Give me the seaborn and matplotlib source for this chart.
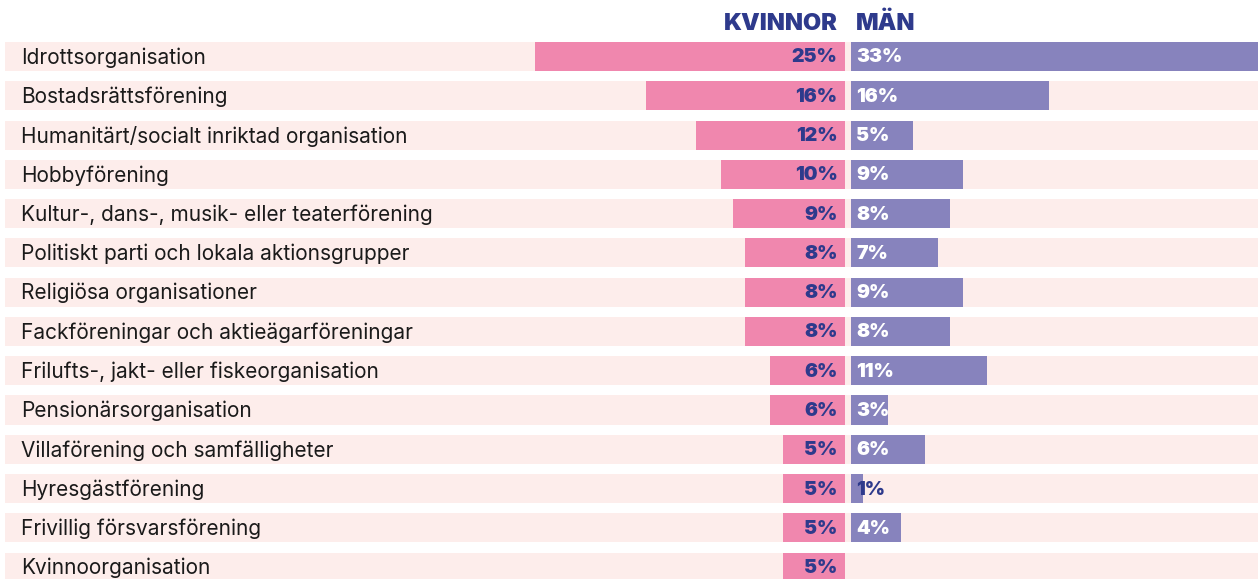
import matplotlib
matplotlib.use("Agg")
import matplotlib.pyplot as plt
import seaborn as sns
import pandas as pd

categories = [
    "Idrottsorganisation",
    "Bostadsrättsförening",
    "Humanitärt/socialt inriktad organisation",
    "Hobbyförening",
    "Kultur-, dans-, musik- eller teaterförening",
    "Politiskt parti och lokala aktionsgrupper",
    "Religiösa organisationer",
    "Fackföreningar och aktieägarföreningar",
    "Frilufts-, jakt- eller fiskeorganisation",
    "Pensionärsorganisation",
    "Villaförening och samfälligheter",
    "Hyresgästförening",
    "Frivillig försvarsförening",
    "Kvinnoorganisation",
]
kvinnor = [25, 16, 12, 10, 9, 8, 8, 8, 6, 6, 5, 5, 5, 5]
man = [33, 16, 5, 9, 8, 7, 9, 8, 11, 3, 6, 1, 4, None]

PINK = "#F087AE"
PURPLE = "#8783BD"
BAND = "#FDEDEB"
NAVY = "#2E3A8C"

sns.set_theme(style="white")
plt.rcParams["font.family"] = ["Inter", "DejaVu Sans"]

df = pd.DataFrame({"kategori": categories, "kvinnor": kvinnor, "man": man})
df["kvinnor_neg"] = -df["kvinnor"]

W, H = 1258, 579
fig = plt.figure(figsize=(W / 100, H / 100), dpi=100)
ax = fig.add_axes([0, 0, 1, 1])

# 12.4 px per percentage point, zero between the two bar groups
PX = 12.4
X0 = 847.75
half_gap = 3.25 / PX

# background bands
n = len(categories)
left_px, right_px = 5, W
ax.barh(range(n), [(right_px - left_px) / PX] * n, left=(left_px - X0) / PX,
        height=0.74, color=BAND, linewidth=0, zorder=0)
n_band = len(ax.patches)

sns.barplot(data=df, y="kategori", x="kvinnor_neg", color=PINK, orient="h",
            width=0.74, saturation=1, linewidth=0, ax=ax, zorder=2)
sns.barplot(data=df.dropna(subset=["man"]), y="kategori", x="man", color=PURPLE,
            orient="h", width=0.74, saturation=1, linewidth=0, ax=ax, zorder=2)

for p in ax.patches[n_band:]:
    if p.get_width() < 0:
        p.set_x(p.get_x() - half_gap)
    else:
        p.set_x(p.get_x() + half_gap)

ax.set_xlim(-X0 / PX, (W - X0) / PX)
pitch = 39.28
yc = 56.5
ax.set_ylim((H - yc) / pitch, -yc / pitch)
ax.axis("off")

dy = 1.0 / pitch
label_x = (21 - X0) / PX
for i, cat in enumerate(categories):
    ax.text(label_x, i + dy, cat, ha="left", va="center", fontsize=15,
            color="#1a1a1a")
    ax.text(-half_gap - 7 / PX, i + dy, f"{kvinnor[i]}%", ha="right", va="center",
            fontsize=14, fontweight="black", color=NAVY)
    if man[i] is not None:
        col = "white" if man[i] >= 3 else NAVY
        ax.text(half_gap + 5 / PX, i + dy, f"{man[i]}%", ha="left", va="center",
                fontsize=14, fontweight="black", color=col)

y_head = -(yc - 23.5) / pitch
ax.text(-half_gap - 7 / PX, y_head, "KVINNOR", ha="right", va="center",
        fontsize=17, fontweight="black", color=NAVY)
ax.text(half_gap + 5 / PX, y_head, "MÄN", ha="left", va="center",
        fontsize=17, fontweight="black", color=NAVY)

fig.savefig("out.png", dpi=100, facecolor="white")
